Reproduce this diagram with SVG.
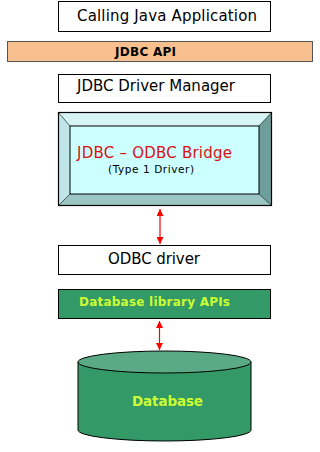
<svg xmlns="http://www.w3.org/2000/svg" width="320" height="452" viewBox="0 0 320 452">
<style>
.box{fill:#fff;stroke:#000;stroke-width:1}
.t{font-family:"DejaVu Sans","Liberation Sans",sans-serif;font-size:15px;fill:#000}
.b{font-weight:bold}
.link{stroke:#f00;stroke-width:1.2;fill:none;marker-start:url(#ah);marker-end:url(#ah)}
</style>
<defs>
<marker id="ah" viewBox="0 0 10 10" refX="10" refY="5" markerWidth="7" markerHeight="7" markerUnits="userSpaceOnUse" orient="auto-start-reverse">
<path d="M0,0 L10,5 L0,10 Z" fill="#f00"/>
</marker>
</defs>
<rect width="320" height="452" fill="#fff"/>
<g id="app">
<rect class="box" x="58.5" y="1.5" width="212" height="30"/>
<text class="t" x="77" y="21" textLength="180">Calling Java Application</text>
</g>
<g id="jdbcapi">
<rect x="7.5" y="41.5" width="305" height="20" fill="#f9c08f" stroke="#555"/>
<text class="t b" x="115" y="56" style="font-size:12px" textLength="61">JDBC API</text>
</g>
<g id="drivermanager">
<rect class="box" x="58.5" y="74.5" width="212" height="28"/>
<text class="t" x="77" y="91" textLength="158">JDBC Driver Manager</text>
</g>
<g id="bridge">
<polygon points="58,112 272,112 259,126 70,126" fill="#d6f4f4"/>
<polygon points="58,112 70,126 70,194 58,206" fill="#bfe6e6"/>
<polygon points="272,112 272,206 259,194 259,126" fill="#6e9e9c"/>
<polygon points="58,206 70,194 259,194 272,206" fill="#9cc6c4"/>
<rect x="70" y="126" width="189" height="68" fill="#ccffff" stroke="#000" stroke-width="1"/>
<line x1="58" y1="112" x2="70" y2="126" stroke="#000" stroke-width="0.6"/>
<line x1="272" y1="112" x2="259" y2="126" stroke="#000" stroke-width="0.6"/>
<line x1="58" y1="206" x2="70" y2="194" stroke="#000" stroke-width="0.6"/>
<line x1="272" y1="206" x2="259" y2="194" stroke="#000" stroke-width="0.6"/>
<rect x="58.5" y="112.5" width="213" height="93" fill="none" stroke="#000" stroke-width="1.2"/>
<text class="t" x="77" y="158" style="fill:#dd1111" textLength="155">JDBC – ODBC Bridge</text>
<text class="t" x="108" y="173" style="font-size:10.5px" textLength="86">(Type 1 Driver)</text>
</g>
<g id="odbcdriver">
<rect class="box" x="58.5" y="245.5" width="212" height="29"/>
<text class="t" x="108" y="264" textLength="92">ODBC driver</text>
</g>
<g id="dblib">
<rect x="58.5" y="289.5" width="212" height="29" fill="#339966" stroke="#000"/>
<text class="t b" x="79" y="306" style="font-size:12px;fill:#ccff33" textLength="151">Database library APIs</text>
</g>
<g id="database">
<path d="M78,362 L78,430 A86.5,11 0 0 0 251,430 L251,362" fill="#339966" stroke="#000" stroke-width="1"/>
<ellipse cx="164.5" cy="362" rx="86.5" ry="11" fill="#5aab85" stroke="#000" stroke-width="1"/>
<text class="t b" x="132" y="406" style="font-size:13.5px;fill:#ccff33" textLength="71">Database</text>
</g>
<g id="connectors">
<line class="link" x1="160" y1="209" x2="160" y2="244"/>
<line class="link" x1="159.5" y1="321" x2="159.5" y2="350"/>
</g>
</svg>
